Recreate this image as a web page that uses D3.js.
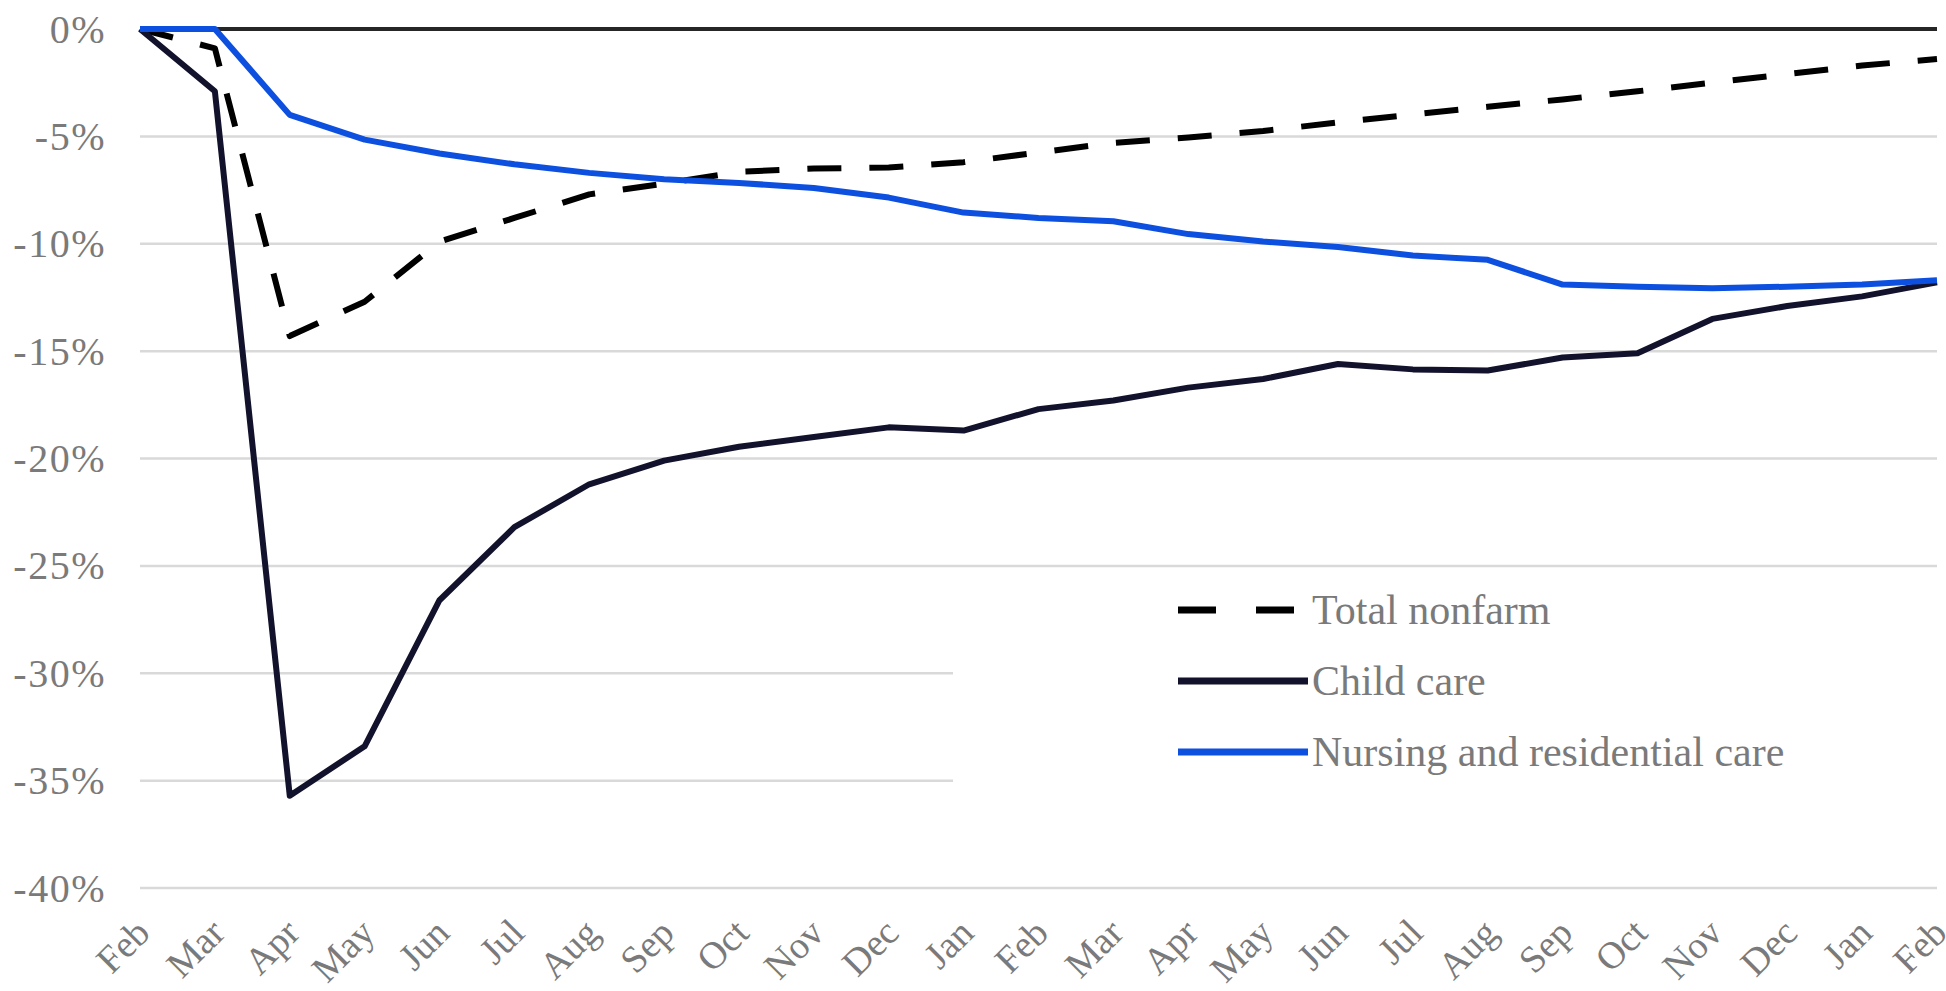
<!DOCTYPE html>
<html lang="en">
  <head>
    <meta charset="utf-8" />
    <title>Employment change since February 2020</title>
    <script src="https://d3js.org/d3.v7.min.js"></script>
    <style>
      body {
        margin: 0;
        background: #fff;
      }

      text {
        font-family: "Liberation Serif", "DejaVu Serif", serif;
        fill: #7a7a7a;
      }

      .grid line {
        stroke: #d9d9d9;
        stroke-width: 2.5;
      }

      .series {
        fill: none;
        stroke-width: 6;
        stroke-linejoin: round;
      }
    </style>
  </head>

  <body>
    <svg id="chart"></svg>

    <script>
      // month labels, Feb 2020 .. Feb 2022
      const months = [
        "Feb", "Mar", "Apr", "May", "Jun", "Jul", "Aug", "Sep", "Oct", "Nov", "Dec", "Jan",
        "Feb", "Mar", "Apr", "May", "Jun", "Jul", "Aug", "Sep", "Oct", "Nov", "Dec", "Jan", "Feb",
      ];

      // percent change from Feb 2020
      const totalNonfarm = [
        0, -0.9, -14.3, -12.7, -9.9, -8.8, -7.7, -7.2, -6.65, -6.5, -6.45, -6.2,
        -5.75, -5.3, -5.05, -4.75, -4.35, -3.98, -3.62, -3.28, -2.9, -2.5, -2.1, -1.7, -1.4,
      ];
      const childCare = [
        0, -2.9, -35.7, -33.4, -26.6, -23.2, -21.2, -20.1, -19.45, -19.0, -18.55, -18.7,
        -17.7, -17.3, -16.7, -16.3, -15.6, -15.85, -15.9, -15.3, -15.1, -13.5, -12.9, -12.45, -11.8,
      ];
      const nursingCare = [
        0, 0, -4.0, -5.15, -5.8, -6.3, -6.7, -7.0, -7.17, -7.4, -7.85, -8.55,
        -8.8, -8.95, -9.55, -9.9, -10.15, -10.55, -10.75, -11.9, -12.0, -12.07, -12.0, -11.9, -11.7,
      ];

      const yTicks = [0, -5, -10, -15, -20, -25, -30, -35, -40];

      const seriesNames = ["Total nonfarm", "Child care", "Nursing and residential care"];
      const seriesColors = ["#000000", "#12122c", "#0d50e0"];
      const seriesDash = ["34,28", null, null];
      const legendDash = ["38,40", null, null];

      const width = 1946;
      const height = 991;

      const svg = d3.select("#chart").attr("width", width).attr("height", height);

      const x = d3
        .scaleLinear()
        .domain([0, months.length - 1])
        .range([140, 1937]);
      const y = d3.scaleLinear().domain([0, -40]).range([29, 888]);

      // gridlines
      svg
        .append("g")
        .attr("class", "grid")
        .selectAll("line")
        .data(yTicks.filter((d) => d !== 0))
        .join("line")
        .attr("x1", x(0))
        .attr("x2", x(months.length - 1))
        .attr("y1", (d) => y(d))
        .attr("y2", (d) => y(d));

      // y axis labels
      svg
        .append("g")
        .selectAll("text")
        .data(yTicks)
        .join("text")
        .attr("x", 106)
        .attr("y", (d) => y(d))
        .attr("dy", "0.34em")
        .attr("text-anchor", "end")
        .style("font-size", "40px")
        .style("letter-spacing", "1.5px")
        .text((d) => d + "%");

      // x axis labels
      svg
        .append("g")
        .selectAll("text")
        .data(months)
        .join("text")
        .attr("text-anchor", "end")
        .attr("transform", (d, i) => `translate(${x(i) + 12},${935}) rotate(-45)`)
        .style("font-size", "38px")
        .text((d) => d);

      // legend backdrop hides the gridlines behind it
      svg
        .append("rect")
        .attr("x", 953)
        .attr("y", 580)
        .attr("width", width - 953)
        .attr("height", 290)
        .attr("fill", "#fff");

      // zero line
      svg
        .append("line")
        .attr("x1", x(0))
        .attr("x2", x(months.length - 1))
        .attr("y1", y(0))
        .attr("y2", y(0))
        .attr("stroke", "#262626")
        .attr("stroke-width", 4);

      const line = d3
        .line()
        .x((d, i) => x(i))
        .y((d) => y(d));

      const allSeries = [totalNonfarm, childCare, nursingCare];

      svg
        .append("g")
        .selectAll("path")
        .data(allSeries)
        .join("path")
        .attr("class", "series")
        .attr("d", line)
        .attr("stroke", (d, i) => seriesColors[i])
        .attr("stroke-dasharray", (d, i) => seriesDash[i]);

      // legend
      const legend = svg
        .append("g")
        .selectAll("g")
        .data(seriesNames)
        .join("g")
        .attr("transform", (d, i) => `translate(1178,${[610, 681, 752][i]})`);

      legend
        .append("line")
        .attr("x1", 0)
        .attr("x2", (d, i) => (i === 0 ? 122 : 130))
        .attr("stroke", (d, i) => seriesColors[i])
        .attr("stroke-width", 7)
        .attr("stroke-dasharray", (d, i) => legendDash[i]);

      legend
        .append("text")
        .attr("x", 134)
        .attr("dy", "0.34em")
        .style("font-size", "42px")
        .text((d) => d);
    </script>
  </body>
</html>
